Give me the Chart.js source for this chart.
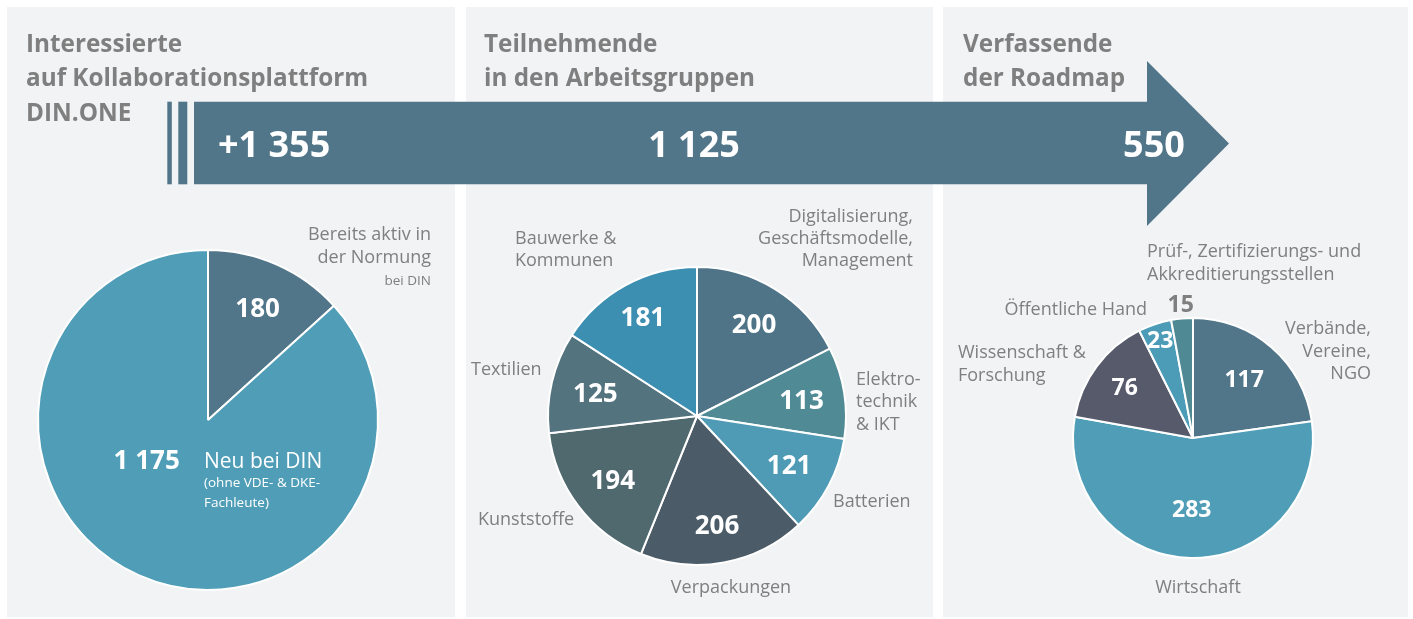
<!DOCTYPE html>
<html>
<head>
<meta charset="utf-8">
<script src="https://cdn.jsdelivr.net/npm/chart.js@4.4.0/dist/chart.umd.min.js"></script>
<style>
  html, body { margin: 0; padding: 0; background: #ffffff; }
  #root { position: relative; width: 1413px; height: 619px; overflow: hidden; font-family: "Open Sans", sans-serif; }
  .panel { position: absolute; top: 7px; height: 610px; background: #f2f3f5; }
  canvas { position: absolute; }
  svg { position: absolute; left: 0; top: 0; }
  .t { font-family: "Open Sans", sans-serif; fill: #7f7f7f; }
  .title { font-weight: 700; font-size: 24.3px; }
  .lbl { font-size: 18px; }
  .big { font-weight: 700; font-size: 36px; fill: #ffffff; }
  .w { fill: #ffffff; }
</style>
</head>
<body>
<div id="root">
  <div class="panel" style="left:7px;width:448px"></div>
  <div class="panel" style="left:466px;width:467px"></div>
  <div class="panel" style="left:943px;width:465px"></div>
  <canvas id="pie1" width="360" height="360" style="left:28px;top:240px"></canvas>
  <canvas id="pie2" width="320" height="320" style="left:537px;top:256px"></canvas>
  <canvas id="pie3" width="320" height="320" style="left:1033px;top:278px"></canvas>
  <svg width="1413" height="619" viewBox="0 0 1413 619">
    <!-- arrow -->
    <rect x="167.3" y="101.7" width="4.5" height="82.6" fill="#527689"/>
    <rect x="178.3" y="101.7" width="9" height="82.6" fill="#527689"/>
    <polygon points="194,101.7 1147,101.7 1147,61 1229,143.5 1147,226 1147,184.3 194,184.3" fill="#527689"/>
    <text class="t big" x="218" y="157" id="sum1"></text>
    <text class="t big" x="694" y="157" text-anchor="middle" id="sum2"></text>
    <text class="t big" x="1154" y="157" text-anchor="middle" id="sum3"></text>
    <!-- titles -->
    <text class="t title" x="26" y="52">Interessierte</text>
    <text class="t title" x="26" y="86">auf Kollaborationsplattform</text>
    <text class="t title" x="26" y="121">DIN.ONE</text>
    <text class="t title" x="484" y="52">Teilnehmende</text>
    <text class="t title" x="484" y="86">in den Arbeitsgruppen</text>
    <text class="t title" x="963" y="52">Verfassende</text>
    <text class="t title" x="963" y="86">der Roadmap</text>
    <!-- pie 1 labels -->
    <text class="t lbl" x="431" y="240" text-anchor="end">Bereits aktiv in</text>
    <text class="t lbl" x="431" y="263" text-anchor="end">der Normung</text>
    <text class="t" x="431" y="285" text-anchor="end" style="font-size:13.5px">bei DIN</text>
    <text class="t w" x="204" y="468" style="font-size:21px">Neu bei DIN</text>
    <text class="t w" x="204" y="487" style="font-size:13.5px">(ohne VDE- &amp; DKE-</text>
    <text class="t w" x="204" y="507" style="font-size:13.5px">Fachleute)</text>
    <!-- pie 2 labels -->
    <text class="t lbl" x="913" y="222" text-anchor="end">Digitalisierung,</text>
    <text class="t lbl" x="913" y="244" text-anchor="end">Geschäftsmodelle,</text>
    <text class="t lbl" x="913" y="266" text-anchor="end">Management</text>
    <text class="t lbl" x="856" y="385">Elektro-</text>
    <text class="t lbl" x="856" y="407">technik</text>
    <text class="t lbl" x="856" y="430">&amp; IKT</text>
    <text class="t lbl" x="833" y="507">Batterien</text>
    <text class="t lbl" x="731" y="593" text-anchor="middle">Verpackungen</text>
    <text class="t lbl" x="478" y="525">Kunststoffe</text>
    <text class="t lbl" x="471" y="375">Textilien</text>
    <text class="t lbl" x="515" y="244">Bauwerke &amp;</text>
    <text class="t lbl" x="515" y="266">Kommunen</text>
    <!-- pie 3 labels -->
    <text class="t lbl" x="1147" y="257">Prüf-, Zertifizierungs- und</text>
    <text class="t lbl" x="1147" y="280">Akkreditierungsstellen</text>
    <text class="t lbl" x="1147" y="315" text-anchor="end">Öffentliche Hand</text>
    <text class="t lbl" x="958" y="358">Wissenschaft &amp;</text>
    <text class="t lbl" x="958" y="381">Forschung</text>
    <text class="t lbl" x="1371" y="334" text-anchor="end">Verbände,</text>
    <text class="t lbl" x="1371" y="357" text-anchor="end">Vereine,</text>
    <text class="t lbl" x="1371" y="379" text-anchor="end">NGO</text>
    <text class="t lbl" x="1198" y="593" text-anchor="middle">Wirtschaft</text>
  </svg>
</div>
<script>
// ---- data ----
const arrowTotals = ['+1 355', '1 125', '550'];

const pie1Labels = ['Bereits aktiv in der Normung bei DIN', 'Neu bei DIN'];
const pie1Values = [180, 1175];
const pie1Colors = ['#527689', '#4f9db7'];

const pie2Labels = ['Digitalisierung, Geschäftsmodelle, Management', 'Elektrotechnik & IKT', 'Batterien', 'Verpackungen', 'Kunststoffe', 'Textilien', 'Bauwerke & Kommunen'];
const pie2Values = [200, 113, 121, 206, 194, 125, 181];
const pie2Colors = ['#4f7487', '#508a95', '#4f9bb5', '#4b5c68', '#50696f', '#53737f', '#3d8fb2'];

const pie3Labels = ['Verbände, Vereine, NGO', 'Wirtschaft', 'Wissenschaft & Forschung', 'Öffentliche Hand', 'Prüf-, Zertifizierungs- und Akkreditierungsstellen'];
const pie3Values = [117, 283, 76, 23, 15];
const pie3Colors = ['#527689', '#4f9db7', '#575a6b', '#4c9cb7', '#4f8a94'];

document.getElementById('sum1').textContent = arrowTotals[0];
document.getElementById('sum2').textContent = arrowTotals[1];
document.getElementById('sum3').textContent = arrowTotals[2];

function fmt(v) { return String(v).replace(/\B(?=(\d{3})+(?!\d))/g, ' '); }

const sliceLabels = {
  id: 'sliceLabels',
  afterDatasetsDraw(chart, args, opts) {
    const ctx = chart.ctx;
    const meta = chart.getDatasetMeta(0);
    const data = chart.data.datasets[0].data;
    const angles = opts.angles || [];
    const colors = opts.colors || [];
    ctx.save();
    ctx.font = 'bold ' + opts.size + 'px "Open Sans"';
    ctx.textAlign = 'center';
    ctx.textBaseline = 'alphabetic';
    meta.data.forEach((arc, i) => {
      const p = arc.getProps(['x', 'y', 'startAngle', 'endAngle', 'outerRadius'], true);
      let a = (p.startAngle + p.endAngle) / 2;
      const ov = angles[i];
      if (typeof ov === 'number' && ov >= 0) a = ov * Math.PI / 180;
      const f = opts.radii[i];
      const x = p.x + Math.cos(a) * p.outerRadius * f;
      const y = p.y + Math.sin(a) * p.outerRadius * f;
      const c = colors[i];
      ctx.fillStyle = (typeof c === 'string' && c) ? c : '#ffffff';
      ctx.fillText(fmt(data[i]), x, y + opts.size * 0.357);
    });
    ctx.restore();
  }
};

function makePie(id, labels, values, colors, radius, labelOpts) {
  return new Chart(document.getElementById(id), {
    type: 'pie',
    data: {
      labels: labels,
      datasets: [{
        data: values,
        backgroundColor: colors,
        borderColor: '#ffffff',
        borderWidth: 2,
        radius: radius
      }]
    },
    options: {
      responsive: false,
      animation: false,
      layout: { padding: 0 },
      plugins: {
        legend: { display: false },
        tooltip: { enabled: false },
        sliceLabels: labelOpts
      }
    },
    plugins: [sliceLabels]
  });
}

function build() {
  makePie('pie1', pie1Labels, pie1Values, pie1Colors, 170,
    { size: 26, radii: [0.72, 0.43], angles: [-1, 147] });
  makePie('pie2', pie2Labels, pie2Values, pie2Colors, 149,
    { size: 26, radii: [0.73, 0.71, 0.70, 0.74, 0.71, 0.70, 0.76] });
  makePie('pie3', pie3Labels, pie3Values, pie3Colors, 120,
    { size: 23, radii: [0.65, 0.59, 0.71, 0.86, 1.12], colors: ['', '', '', '', '#7f7f7f'] });
}

if (document.fonts && document.fonts.load) {
  Promise.all([
    document.fonts.load('bold 26px "Open Sans"'),
    document.fonts.load('18px "Open Sans"')
  ]).then(build, build);
} else {
  build();
}
</script>
</body>
</html>
